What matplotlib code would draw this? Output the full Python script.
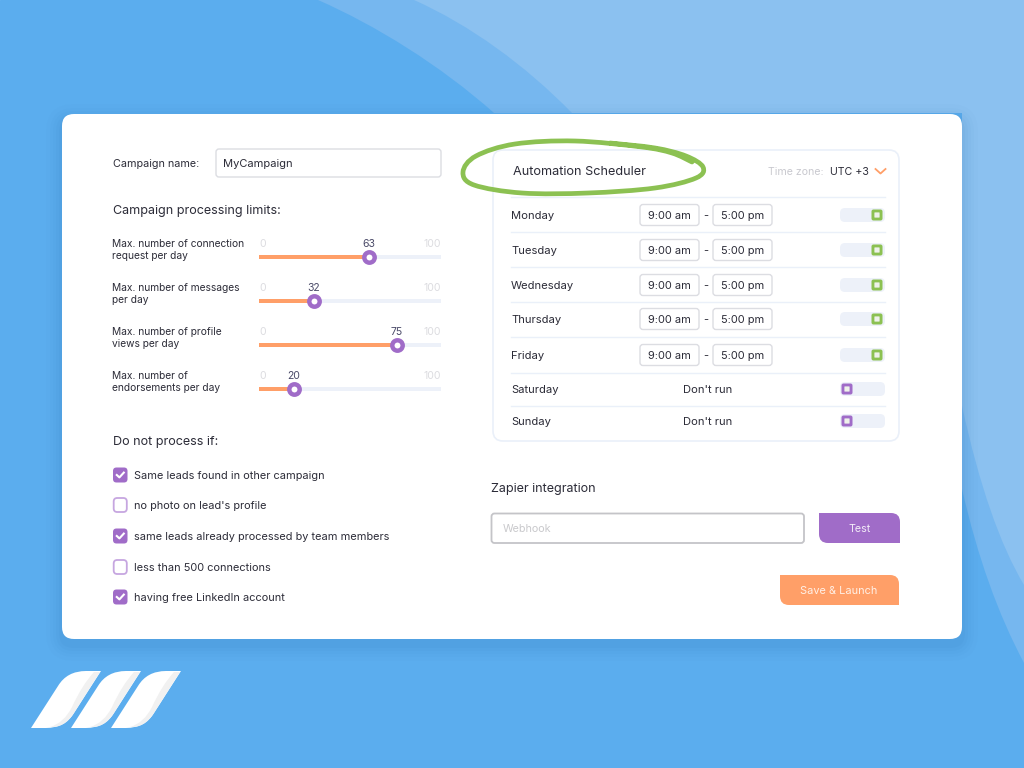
import matplotlib
matplotlib.use('Agg')
import matplotlib.pyplot as plt
from matplotlib.patches import FancyBboxPatch, PathPatch
from matplotlib.path import Path

plt.rcParams['font.family'] = ['Inter', 'DejaVu Sans']

# what the screenshot shows
limit_labels = ['Max. number of connection\nrequest per day', 'Max. number of messages\nper day',
                'Max. number of profile\nviews per day', 'Max. number of\nendorsements per day']
limit_values = ['63', '32', '75', '20']
limit_fill = [60.4, 30.2, 75.8, 19.2]   # share of the track as drawn, in percent
days = ['Monday', 'Tuesday', 'Wednesday', 'Thursday', 'Friday', 'Saturday', 'Sunday']
day_on = [True, True, True, True, True, False, False]
start_time = '9:00 am'
end_time = '5:00 pm'
options = ['Same leads found in other campaign', "no photo on lead's profile",
           'same leads already processed by team members', 'less than 500 connections',
           'having free LinkedIn account']
option_on = [True, False, True, False, True]

DARK = '#2c2c38'
ORANGE = '#ff9f68'
PURPLE = '#a06cc8'
GREEN = '#8cc152'
TRACK = '#edf1f9'
LINE = '#eaf0f9'
GREY = '#c9c9cf'

PX = 0.72  # font px to pt at dpi 100

fig = plt.figure(figsize=(10.24, 7.68), dpi=100)
ax = fig.add_axes([0, 0, 1, 1])
ax.set_xlim(0, 1024)
ax.set_ylim(768, 0)
ax.axis('off')
ax.add_patch(plt.Rectangle((0, 0), 1024, 768, color='#5badee', zorder=0))


def rbox(x0, y0, x1, y1, r, fc='white', ec='none', lw=0, z=3, alpha=None):
    p = FancyBboxPatch((x0, y0), x1 - x0, y1 - y0, boxstyle=f'round,pad=0,rounding_size={r}',
                       fc=fc, ec=ec, lw=lw, zorder=z, alpha=alpha)
    ax.add_patch(p)
    return p


def label(x, y, s, size=11, color=DARK, ha='left', **kw):
    return ax.text(x, y + 0.8, s, fontsize=size * PX, color=color, ha=ha, va='center', zorder=8, **kw)


def leaf_button(x0, y0, x1, y1, r, color):
    # square top left and bottom right, rounded on the other two corners
    verts = [(x0, y0), (x1 - r, y0), (x1, y0), (x1, y0 + r), (x1, y1), (x0 + r, y1), (x0, y1),
             (x0, y1 - r), (x0, y0)]
    codes = [Path.MOVETO, Path.LINETO, Path.CURVE3, Path.CURVE3, Path.LINETO, Path.LINETO,
             Path.CURVE3, Path.CURVE3, Path.CLOSEPOLY]
    ax.add_patch(PathPatch(Path(verts, codes), fc=color, ec='none', zorder=4))


def smooth(points):
    # catmull-rom through the points, as bezier segments
    verts = [points[0]]
    codes = [Path.MOVETO]
    for i in range(len(points) - 1):
        p0 = points[max(i - 1, 0)]
        p1 = points[i]
        p2 = points[i + 1]
        p3 = points[min(i + 2, len(points) - 1)]
        verts.append((p1[0] + (p2[0] - p0[0]) / 6, p1[1] + (p2[1] - p0[1]) / 6))
        verts.append((p2[0] - (p3[0] - p1[0]) / 6, p2[1] - (p3[1] - p1[1]) / 6))
        verts.append(p2)
        codes += [Path.CURVE4] * 3
    return Path(verts, codes)


# background waves
wave1 = Path([(318, 0), (375, 25), (440, 65), (494, 113), (962, 113), (962, 489), (985, 590), (1024, 663),
              (1024, 0), (318, 0)],
             [Path.MOVETO, Path.CURVE4, Path.CURVE4, Path.CURVE4, Path.LINETO, Path.LINETO, Path.CURVE3,
              Path.CURVE3, Path.LINETO, Path.CLOSEPOLY])
ax.add_patch(PathPatch(wave1, fc='#76b7ef', ec='none', zorder=1))
wave2 = Path([(414, 0), (470, 25), (525, 65), (572, 113), (962, 113), (962, 406), (988, 525), (1024, 585),
              (1024, 0), (414, 0)],
             [Path.MOVETO, Path.CURVE4, Path.CURVE4, Path.CURVE4, Path.LINETO, Path.LINETO, Path.CURVE3,
              Path.CURVE3, Path.LINETO, Path.CLOSEPOLY])
ax.add_patch(PathPatch(wave2, fc='#8bc1f0', ec='none', zorder=1))

# card with soft shadow
for grow, a in [(16, 0.015), (12, 0.02), (9, 0.025), (6, 0.03), (3, 0.04)]:
    rbox(62 - grow, 114 - grow + 6, 962 + grow, 639 + grow + 6, 12 + grow, fc='#1f5f9e', z=2, alpha=a)
rbox(62, 114, 962, 639, 12)

# left column
label(113, 163, 'Campaign name:', 10.8)
rbox(216, 149, 441, 177, 3, ec='#dcdde2', lw=1)
label(223, 163, 'MyCampaign', 11.1)
label(113, 210, 'Campaign processing limits:', 12.6)

for i in range(4):
    yc = 257 + i * 44
    ax.text(112, yc - 7, limit_labels[i], fontsize=10.2 * PX, color=DARK, va='center', linespacing=1.3, zorder=8)
    sub = ax.inset_axes([259, yc - 2, 182, 4], transform=ax.transData, zorder=5)
    sub.set_xlim(0, 100)
    sub.set_ylim(0, 1)
    sub.axis('off')
    sub.barh(0.5, 100, height=1, color=TRACK)
    sub.barh(0.5, limit_fill[i], height=1, color=ORANGE)
    sub.plot(limit_fill[i], 0.5, 'o', ms=7.5, mfc='white', mec=PURPLE, mew=3.2, clip_on=False, zorder=5)
    thumb_x = 259 + 182 * limit_fill[i] / 100
    label(thumb_x, yc - 14, limit_values[i], 10.5, color='#4a4a68', ha='center')
    label(259, yc - 14, '0', 10.5, color='#dcdce0')
    label(441, yc - 14, '100', 10.5, color='#dcdce0', ha='right')

label(113, 441, 'Do not process if:', 12.6)
for i, text in enumerate(options):
    yc = [475, 505, 536, 567, 597][i]
    if option_on[i]:
        rbox(113, yc - 7.5, 127.5, yc + 7.5, 3.5, fc=PURPLE)
        ax.plot([116.8, 119.4, 123.8], [yc, yc + 2.4, yc - 2.4], color='white', lw=1.5, zorder=6)
    else:
        rbox(113.7, yc - 7, 126.8, yc + 7, 3.5, ec='#c6a6e0', lw=1.3)
    label(134, yc, text, 10.95)

# scheduler panel
rbox(493, 150, 899, 441, 10, ec=LINE, lw=1.2)
label(513, 171, 'Automation Scheduler', 12.7)
label(768, 171, 'Time zone:', 10.6, color=GREY)
label(830, 171, 'UTC +3', 10.6)
ax.plot([875.5, 880.5, 885.5], [169, 173.5, 169], color=ORANGE, lw=1.3, zorder=6)

row_y = [215, 250, 285, 319, 355, 389, 421]
for y in [197, 232, 267, 302, 337, 373, 406]:
    ax.plot([511, 885], [y, y], color=LINE, lw=1, zorder=4)
for i, day in enumerate(days):
    yc = row_y[i]
    label(511, yc + 0.5, day, 11.2)
    if day_on[i]:
        rbox(640, yc - 10.5, 699, yc + 10.5, 3, ec='#dcdde2', lw=1)
        rbox(713, yc - 10.5, 772, yc + 10.5, 3, ec='#dcdde2', lw=1)
        label(669.5, yc, start_time, 11, ha='center')
        label(742.5, yc, end_time, 11, ha='center')
        label(706, yc, '-', 11, ha='center')
    else:
        label(683, yc, "Don't run", 11.2)
    rbox(840, yc - 7, 885, yc + 7, 5, fc=TRACK)
    knob_x, knob_c = (877, GREEN) if day_on[i] else (847, PURPLE)
    rbox(knob_x - 5.5, yc - 5.5, knob_x + 5.5, yc + 5.5, 2, fc=knob_c, z=5)
    rbox(knob_x - 2.6, yc - 2.6, knob_x + 2.6, yc + 2.6, 0.5, fc='#eef2ea', z=6)

# hand drawn ring around the title
ring = [(692, 162), (672, 153), (642, 147), (575, 141), (515, 144), (476, 156), (463, 172), (474, 185), (522, 193),
        (588, 193), (655, 188), (696, 178), (703, 167), (686, 156), (655, 148), (610, 143)]
ax.add_patch(PathPatch(smooth(ring), fc='none', ec=GREEN, lw=3.4, capstyle='round', zorder=7))

# zapier
label(491, 488, 'Zapier integration', 12.6)
rbox(491.5, 513.5, 804, 543, 3, ec='#c4c4c8', lw=1.3)
label(503, 528, 'Webhook', 10.8, color='#c9c9cc')
leaf_button(819, 513, 900, 543, 9, PURPLE)
label(860, 528, 'Test', 10.8, color='#f3ecf8', ha='center')
leaf_button(780, 575, 899, 605, 9, ORANGE)
label(839, 590, 'Save & Launch', 11, color='#fff0e6', ha='center')

# logo
for dx in [0, 40, 80]:
    blade = Path([(31 + dx, 728), (58 + dx, 686), (67 + dx, 671), (86 + dx, 671), (101 + dx, 671), (74 + dx, 713),
                  (65 + dx, 728), (46 + dx, 728), (31 + dx, 728)],
                 [Path.MOVETO, Path.LINETO, Path.CURVE3, Path.CURVE3, Path.LINETO, Path.LINETO, Path.CURVE3,
                  Path.CURVE3, Path.CLOSEPOLY])
    ax.add_patch(PathPatch(blade, fc='white', ec='none', zorder=3))
    shade = Path([(94 + dx, 672), (100 + dx, 672), (74 + dx, 713), (65 + dx, 728), (50 + dx, 727), (64 + dx, 723),
                  (72 + dx, 707), (82 + dx, 685), (94 + dx, 672)],
                 [Path.MOVETO, Path.LINETO, Path.LINETO, Path.CURVE3, Path.CURVE3, Path.CURVE3, Path.CURVE3,
                  Path.CURVE3, Path.CLOSEPOLY])
    ax.add_patch(PathPatch(shade, fc='#f1f1f1', ec='none', zorder=4))

fig.savefig('out.png', dpi=100)
